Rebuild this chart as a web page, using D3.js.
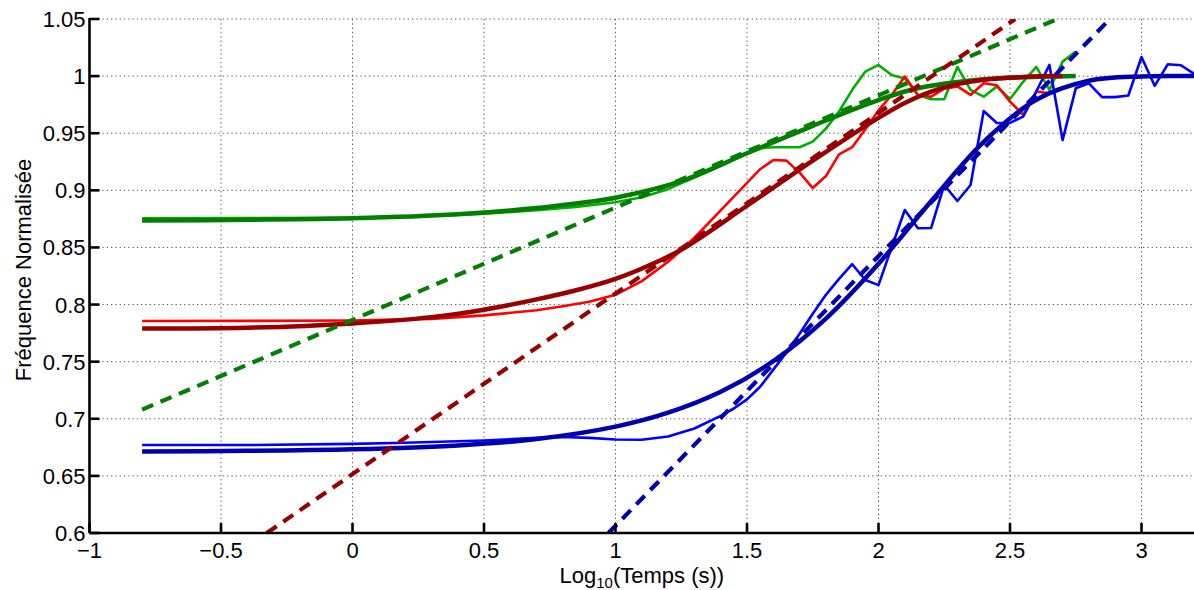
<!DOCTYPE html>
<html><head><meta charset="utf-8">
<script src="https://cdn.jsdelivr.net/npm/d3@7"></script>
<style>body{margin:0;background:#fff}svg{display:block}text{font-family:"Liberation Sans",Arial,Helvetica,sans-serif}</style>
</head><body>
<script>
const xTicks = [-1,-0.5,0,0.5,1,1.5,2,2.5,3];
const xTickLabels = ["\u22121","\u22120.5","0","0.5","1","1.5","2","2.5","3"];
const yTicks = [0.6,0.65,0.7,0.75,0.8,0.85,0.9,0.95,1,1.05];
const yTickLabels = ["0.6","0.65","0.7","0.75","0.8","0.85","0.9","0.95","1","1.05"];

const greenRaw = [[-0.8,0.8755],[-0.4,0.8757],[0,0.876],[0.3,0.8775],[0.5,0.8795],[0.7,0.8825],[0.85,0.8855],[1.0,0.8895],[1.1,0.894],[1.2,0.901],[1.3,0.9115],[1.4,0.922],[1.5,0.9325],[1.55,0.937],[1.6,0.9377],[1.65,0.9377],[1.7,0.9377],[1.75,0.9426],[1.8,0.954],[1.85,0.969],[1.9,0.988],[1.95,1.004],[2.0,1.0098],[2.05,1.001],[2.1,0.998],[2.15,0.9835],[2.2,0.9798],[2.25,0.9798],[2.3,1.008],[2.35,0.988],[2.4,0.982],[2.45,0.991],[2.5,0.980],[2.55,0.995],[2.6,1.008],[2.65,0.988],[2.7,1.0127],[2.75,1.0215]];
const greenFit = [[-0.8,0.8735],[-0.4,0.8742],[0,0.8755],[0.4,0.879],[0.7,0.8845],[0.85,0.8885],[1.0,0.8935],[1.25,0.908],[1.5,0.9325],[1.75,0.9565],[1.9,0.9705],[2.0,0.979],[2.1,0.9865],[2.2,0.9915],[2.35,0.9962],[2.5,0.9985],[2.75,1.0]];
const greenTangent = [[-0.8,0.708],[2.68,1.05]];

const redRaw = [[-0.8,0.7856],[-0.4,0.7857],[0,0.786],[0.3,0.7875],[0.5,0.7905],[0.7,0.795],[0.8,0.7985],[0.9,0.8025],[1.0,0.8085],[1.1,0.8205],[1.2,0.8375],[1.25,0.8475],[1.3,0.8585],[1.35,0.8705],[1.4,0.8825],[1.45,0.8945],[1.5,0.9065],[1.55,0.9185],[1.6,0.9265],[1.65,0.926],[1.7,0.9155],[1.75,0.902],[1.8,0.9125],[1.85,0.9315],[1.9,0.9378],[1.95,0.9535],[2.0,0.970],[2.05,0.9835],[2.1,0.9996],[2.15,0.9835],[2.2,0.982],[2.25,0.989],[2.3,0.991],[2.35,0.9835],[2.4,0.9937],[2.45,0.992],[2.5,0.9777],[2.55,0.966],[2.6,0.9865],[2.65,0.985]];
const redFit = [[-0.8,0.779],[-0.4,0.7797],[0,0.7835],[0.3,0.789],[0.5,0.7955],[0.7,0.8045],[0.85,0.8125],[1.0,0.8225],[1.125,0.834],[1.25,0.848],[1.5,0.8865],[1.75,0.926],[2.0,0.9635],[2.1,0.9765],[2.2,0.9865],[2.3,0.993],[2.4,0.9968],[2.55,0.9993],[2.7,1.0]];
const redTangent = [[-0.326,0.6],[2.52,1.05]];

const blueRaw = [[-0.8,0.677],[-0.4,0.677],[0,0.678],[0.2,0.679],[0.5,0.681],[0.7,0.6833],[0.8,0.684],[0.9,0.6833],[1.0,0.6818],[1.1,0.6816],[1.2,0.6845],[1.3,0.6915],[1.4,0.7025],[1.45,0.709],[1.5,0.717],[1.55,0.728],[1.6,0.743],[1.65,0.758],[1.7,0.7745],[1.75,0.792],[1.8,0.8085],[1.85,0.8225],[1.9,0.8353],[1.95,0.8215],[2.0,0.817],[2.05,0.850],[2.1,0.8828],[2.15,0.8668],[2.2,0.867],[2.25,0.9047],[2.3,0.8907],[2.35,0.9047],[2.4,0.9695],[2.45,0.959],[2.5,0.959],[2.55,0.9646],[2.6,0.9865],[2.65,1.0098],[2.7,0.944],[2.75,0.9893],[2.8,0.9937],[2.85,0.9816],[2.9,0.9816],[2.95,0.983],[3.0,1.0167],[3.05,0.9915],[3.1,1.0104],[3.15,1.0095],[3.2,1.0019]];
const blueFit = [[-0.8,0.6714],[-0.4,0.6719],[0,0.6733],[0.4,0.6767],[0.7,0.6822],[1.0,0.6931],[1.2,0.7053],[1.4,0.7236],[1.6,0.7505],[1.8,0.7877],[2.0,0.8357],[2.2,0.8905],[2.4,0.9425],[2.6,0.9793],[2.8,0.9959],[3.0,0.9997],[3.2,1.0]];
const blueTangent = [[0.973,0.6],[2.88,1.05]];

const W = 1194, H = 590;
const L = 89.5, R = 1194.1, T = 19, B = 533;
const x = d3.scaleLinear().domain([-1,3.2]).range([L,R]);
const y = d3.scaleLinear().domain([0.6,1.05]).range([B,T]);

const svg = d3.select("body").append("svg").attr("width",W).attr("height",H);
svg.append("defs").append("clipPath").attr("id","clip").append("rect")
  .attr("x",L).attr("y",T).attr("width",R-L).attr("height",B-T);

// grid
const grid = svg.append("g").attr("stroke","#555").attr("stroke-width",1).attr("stroke-dasharray","1.3,3");
grid.selectAll(".vx").data(xTicks.filter(d=>d>-1)).join("line")
  .attr("x1",d=>x(d)).attr("x2",d=>x(d)).attr("y1",T).attr("y2",B);
grid.selectAll(".hy").data(yTicks.filter(d=>d>0.6)).join("line")
  .attr("x1",L).attr("x2",R).attr("y1",d=>y(d)).attr("y2",d=>y(d));

const line = d3.line().x(d=>x(d[0])).y(d=>y(d[1]));
const smooth = d3.line().x(d=>x(d[0])).y(d=>y(d[1])).curve(d3.curveCatmullRom.alpha(0.5));
const plot = svg.append("g").attr("clip-path","url(#clip)").attr("fill","none")
  .attr("stroke-linejoin","round");

const C = {gRaw:"#00b000", gFit:"#007f00", rRaw:"#ff0000", rFit:"#990000", bRaw:"#0000ff", bFit:"#0000b0"};

[[greenRaw,C.gRaw],[redRaw,C.rRaw],[blueRaw,C.bRaw]].forEach(([d,c])=>{
  plot.append("path").datum(d).attr("d",line).attr("stroke",c).attr("stroke-width",2.6);
});
[[greenFit,C.gFit],[redFit,C.rFit],[blueFit,C.bFit]].forEach(([d,c])=>{
  plot.append("path").datum(d).attr("d",smooth).attr("stroke",c).attr("stroke-width",4.5);
});
[[greenTangent,C.gFit],[redTangent,C.rFit],[blueTangent,C.bFit]].forEach(([d,c])=>{
  plot.append("path").datum(d).attr("d",line).attr("stroke",c).attr("stroke-width",4.2)
    .attr("stroke-dasharray","12,8");
});

// axes
const ax = svg.append("g").attr("stroke","#000").attr("stroke-width",2.6);
ax.append("line").attr("x1",L).attr("x2",R).attr("y1",B).attr("y2",B);
ax.append("line").attr("x1",L).attr("x2",L).attr("y1",T-1).attr("y2",B);
ax.selectAll(".xt").data(xTicks).join("line")
  .attr("x1",d=>x(d)).attr("x2",d=>x(d)).attr("y1",B).attr("y2",B-10);
ax.selectAll(".yt").data(yTicks).join("line")
  .attr("x1",L).attr("x2",L+10).attr("y1",d=>y(d)).attr("y2",d=>y(d));

const fs = 22;
svg.append("g").selectAll("text").data(xTicks).join("text")
  .attr("x",d=>x(d)).attr("y",B+25).attr("text-anchor","middle")
  .attr("font-size",fs).text((d,i)=>xTickLabels[i]);
svg.append("g").selectAll("text").data(yTicks).join("text")
  .attr("x",L-4).attr("y",d=>y(d)+8).attr("text-anchor","end")
  .attr("font-size",fs).text((d,i)=>yTickLabels[i]);

const xl = svg.append("text").attr("x",(L+R)/2).attr("y",583).attr("text-anchor","middle").attr("font-size",22);
xl.append("tspan").text("Log");
xl.append("tspan").attr("font-size",15).attr("dy",5).text("10");
xl.append("tspan").attr("dy",-5).text("(Temps (s))");

svg.append("text").attr("transform",`translate(31,270) rotate(-90)`)
  .attr("text-anchor","middle").attr("font-size",22).text("Fréquence Normalisée");
</script>
</body></html>
